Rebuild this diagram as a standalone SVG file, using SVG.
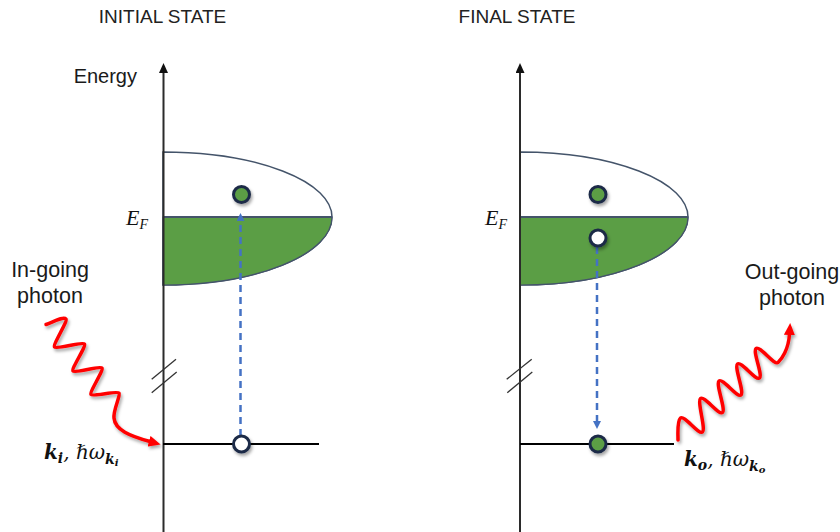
<svg xmlns="http://www.w3.org/2000/svg" width="840" height="532" viewBox="0 0 840 532">
<defs>
<style>
.title{font-family:"Liberation Sans",Arial,sans-serif;font-size:19px;fill:#222}
.lbl{font-family:"Liberation Sans",Arial,sans-serif;font-size:21.5px;fill:#1a1a1a}
.axis{stroke:#2b2b2b;stroke-width:2;fill:none}
.band{fill:#fff;stroke:#44546A;stroke-width:1.5}
.fill{fill:#5B9E45;stroke:#44546A;stroke-width:1.2}
.ef{stroke:#44546A;stroke-width:2}
.level{stroke:#000;stroke-width:2.2}
.dash{stroke:#4472C4;stroke-width:2.5;stroke-dasharray:7 5;fill:none}
.e-full{fill:#5B9E45;stroke:#1B2A47;stroke-width:3}
.e-hole{fill:#fff;stroke:#1B2A47;stroke-width:3}
.brk{stroke:#333;stroke-width:1.3}
.wave{stroke:#FF0000;stroke-width:3.5;fill:none;stroke-linejoin:round;stroke-linecap:round}
.math{font-family:"DejaVu Serif","Liberation Serif",serif;font-style:italic;fill:#111;font-size:20px}
.ef-t{font-family:"Liberation Serif","DejaVu Serif",serif;font-style:italic;fill:#111;font-size:22px}
</style>
<filter id="sh" x="-30%" y="-30%" width="160%" height="160%">
<feDropShadow dx="1.5" dy="2.5" stdDeviation="1.8" flood-color="#000" flood-opacity="0.35"/>
</filter>
<marker id="axArrow" markerUnits="userSpaceOnUse" markerWidth="10" markerHeight="9" refX="0" refY="4.5" orient="auto">
<path d="M0,0 L10,4.5 L0,9 z" fill="#111"/>
</marker>
<marker id="blueArrow" markerUnits="userSpaceOnUse" markerWidth="8" markerHeight="8" refX="0" refY="4" orient="auto">
<path d="M0,0 L8,4 L0,8 z" fill="#4472C4"/>
</marker>
<marker id="redArrow" markerUnits="userSpaceOnUse" markerWidth="12" markerHeight="11" refX="1" refY="5.5" orient="auto">
<path d="M0,0 L12,5.5 L0,11 z" fill="#FF0000"/>
</marker>
</defs>
<rect width="840" height="532" fill="#fff"/>

<g id="left-panel">
<text class="title" x="162.5" y="23" text-anchor="middle">INITIAL STATE</text>
<text class="lbl" x="137" y="83" text-anchor="end" style="font-size:20px">Energy</text>
<g id="left-band">
<path class="band" d="M163,152 A169,65 0 0 1 332,217 A169,68 0 0 1 163,285 Z"/>
<path class="fill" d="M163,217 L332,217 A169,68 0 0 1 163,285 Z"/>
<line class="ef" x1="163" y1="217" x2="332" y2="217"/>
</g>
<g id="left-axis">
<line class="axis" x1="163.5" y1="532" x2="163.5" y2="73" marker-end="url(#axArrow)"/>
<line class="brk" x1="151.7" y1="379.3" x2="176" y2="359.3"/>
<line class="brk" x1="151.7" y1="392.7" x2="176.7" y2="372"/>
</g>
<text id="left-ef" class="ef-t" x="126" y="225">E<tspan dy="4" style="font-size:14px">F</tspan></text>
<line id="left-core-level" class="level" x1="163" y1="444" x2="319" y2="444"/>
<g id="left-photon-label">
<text class="lbl" x="50" y="276.5" text-anchor="middle">In-going</text>
<text class="lbl" x="50" y="302.5" text-anchor="middle">photon</text>
</g>
<text id="left-k" class="math" x="44" y="459"><tspan font-weight="bold">k</tspan><tspan dy="4" font-size="14px" font-weight="bold">i</tspan><tspan dy="-4">, ℏω</tspan><tspan dy="5" font-size="14px" font-weight="bold">k</tspan><tspan dy="2" font-size="10px" font-weight="bold">i</tspan></text>
</g>

<g id="right-panel">
<text class="title" x="517" y="23" text-anchor="middle">FINAL STATE</text>
<g id="right-band">
<path class="band" d="M520,152 A168,65 0 0 1 688,217 A168,68 0 0 1 520,285 Z"/>
<path class="fill" d="M520,217 L688,217 A168,68 0 0 1 520,285 Z"/>
<line class="ef" x1="520" y1="217" x2="688" y2="217"/>
</g>
<g id="right-axis">
<line class="axis" x1="520" y1="532" x2="520" y2="73" marker-end="url(#axArrow)"/>
<line class="brk" x1="506.7" y1="379.3" x2="531.7" y2="359.3"/>
<line class="brk" x1="507.3" y1="392.7" x2="532.3" y2="372"/>
</g>
<text id="right-ef" class="ef-t" x="485" y="225">E<tspan dy="4" style="font-size:14px">F</tspan></text>
<line id="right-core-level" class="level" x1="520" y1="444" x2="674" y2="444"/>
<g id="right-photon-label">
<text class="lbl" x="792" y="278.5" text-anchor="middle">Out-going</text>
<text class="lbl" x="792" y="305" text-anchor="middle">photon</text>
</g>
<text id="right-k" class="math" x="684" y="466"><tspan font-weight="bold">k</tspan><tspan dy="4" font-size="14px" font-weight="bold">o</tspan><tspan dy="-4">, ℏω</tspan><tspan dy="5" font-size="14px" font-weight="bold">k</tspan><tspan dy="2" font-size="10px" font-weight="bold">o</tspan></text>
</g>

<g id="connectors">
<line class="dash" x1="240.5" y1="436" x2="240.5" y2="221" marker-end="url(#blueArrow)"/>
<line class="dash" x1="597" y1="247" x2="597" y2="421" marker-end="url(#blueArrow)"/>
<path id="in-photon" class="wave" filter="url(#sh)" marker-end="url(#redArrow)" d="M46,324.5 C53,322 63.5,316 66,319 C67.8,321.4 52.7,344.6 54.5,347 C56.3,349.4 82.7,341.6 84.5,344 C86.3,346.4 71.2,368.6 73,371 C74.8,373.4 100.2,365.6 102,368 C103.8,370.4 89.2,392.1 91,394.5 C92.8,396.9 117.2,390.6 119,393 C120.8,395.4 113,410 114,418 C115,430 130,436 150,441.5"/>
<path id="out-photon" class="wave" filter="url(#sh)" marker-end="url(#redArrow)" d="M678,440 C678,432 677,421.2 680.5,418 C684,414.8 699,435.2 702.5,432 C706,428.8 697,401.7 700.5,398.5 C704,395.3 719,415.7 722.5,412.5 C726,409.3 715.5,384.2 719,381 C722.5,377.8 737.5,398.2 741,395 C744.5,391.8 734,367.2 737.5,364 C741,360.8 756,381.2 759.5,378 C763,374.8 752.5,351.7 756,348.5 C759.5,345.3 774.5,365.7 778,362.5 C781.5,359.3 788.5,350 789.5,334"/>
</g>

<g id="electrons" filter="url(#sh)">
<circle id="left-excited" class="e-full" cx="241.5" cy="194.5" r="8"/>
<circle id="left-core-hole" class="e-hole" cx="241.5" cy="444" r="8"/>
<circle id="right-excited" class="e-full" cx="598" cy="194.5" r="8"/>
<circle id="right-hole" class="e-hole" cx="598" cy="238" r="8"/>
<circle id="right-core-filled" class="e-full" cx="598" cy="444" r="8"/>
</g>
</svg>
